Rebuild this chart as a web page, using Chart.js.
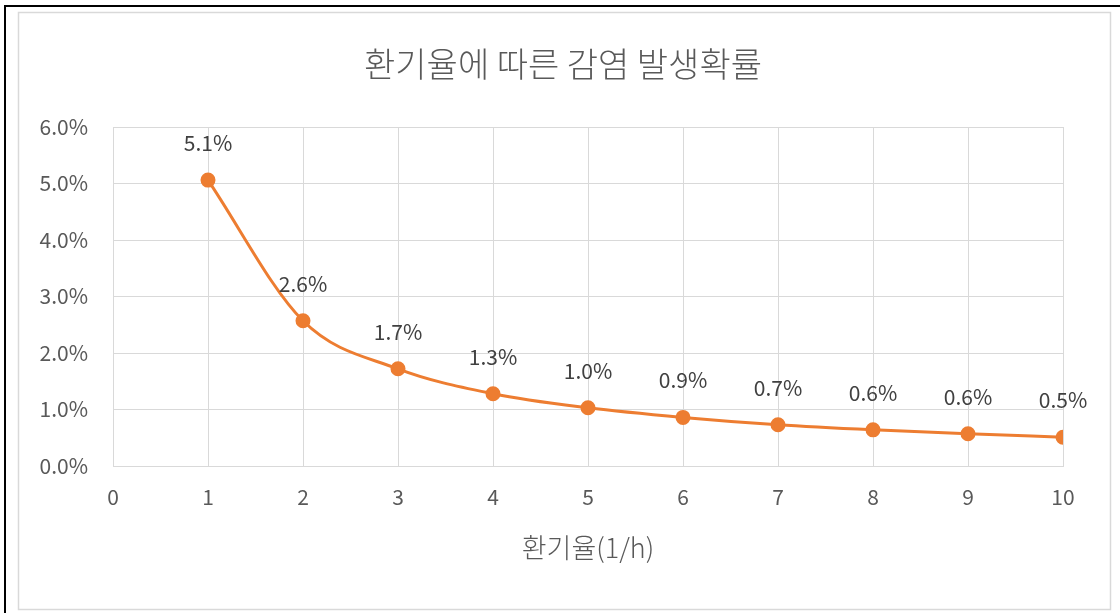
<!DOCTYPE html>
<html>
<head>
<meta charset="utf-8">
<script src="https://cdn.jsdelivr.net/npm/chart.js@4.4.0/dist/chart.umd.min.js"></script>
<style>
  html, body { margin: 0; padding: 0; background: #fff; }
  #wrap { width: 1120px; height: 613px; }
</style>
</head>
<body>
<div id="wrap"><canvas id="rateChart" width="1120" height="613"></canvas></div>
<script>
// values
const ventRates = [1, 2, 3, 4, 5, 6, 7, 8, 9, 10];
const infectionPct = [5.06, 2.57, 1.72, 1.28, 1.03, 0.86, 0.73, 0.64, 0.57, 0.51];
const chartTitle = '환기율에 따른 감염 발생확률';
const xTitle = '환기율(1/h)';

const orange = '#ED7D31';
const gridGray = '#d9d9d9';
const textGray = '#595959';
const fontFam = '"Noto Sans CJK KR", "Noto Sans", sans-serif';

// white background, outer frame, and the title (centred on the page, not the plot)
const framePlugin = {
    id: 'frame',
    beforeDraw(chart) {
        const c = chart.ctx;
        c.save();
        c.fillStyle = '#fff';
        c.fillRect(0, 0, chart.width, chart.height);
        c.strokeStyle = '#000';
        c.lineWidth = 2;
        c.beginPath();
        c.moveTo(5, chart.height);
        c.lineTo(5, 6);
        c.lineTo(chart.width, 6);
        c.stroke();
        c.strokeStyle = '#d9d9d9';
        c.lineWidth = 1.5;
        c.strokeRect(18.5, 12.5, 1092, 597);

        c.font = '300 34px ' + fontFam;
        c.fillStyle = textGray;
        c.textAlign = 'center';
        c.textBaseline = 'middle';
        c.fillText(chartTitle, 563, 64);
        c.restore();
    }
};

// percent labels above each point
const pointLabels = {
    id: 'pointLabels',
    afterDatasetsDraw(chart) {
        const c = chart.ctx;
        const meta = chart.getDatasetMeta(0);
        c.save();
        c.font = '21px ' + fontFam;
        c.fillStyle = '#404040';
        c.textAlign = 'center';
        c.textBaseline = 'middle';
        meta.data.forEach((pt, i) => {
            c.fillText(infectionPct[i].toFixed(1) + '%', pt.x, pt.y - 37);
        });
        c.restore();
    }
};

new Chart(document.getElementById('rateChart'), {
    type: 'line',
    data: {
        datasets: [{
            data: ventRates.map((r, i) => ({ x: r, y: infectionPct[i] })),
            borderColor: orange,
            backgroundColor: orange,
            borderWidth: 3,
            pointRadius: 6,
            pointHoverRadius: 6,
            pointBackgroundColor: orange,
            pointBorderColor: orange,
            cubicInterpolationMode: 'monotone',
            fill: false
        }]
    },
    options: {
        responsive: false,
        animation: false,
        layout: { padding: { left: 20, right: 57, top: 127, bottom: 44 } },
        plugins: {
            legend: { display: false },
            tooltip: { enabled: false },
            title: { display: false }
        },
        scales: {
            x: {
                type: 'linear',
                min: 0,
                max: 10,
                ticks: {
                    stepSize: 1,
                    color: textGray,
                    font: { family: fontFam, size: 21 },
                    padding: 18
                },
                grid: { color: gridGray, drawTicks: false },
                border: { color: gridGray },
                title: {
                    display: true,
                    text: xTitle,
                    color: textGray,
                    font: { family: fontFam, size: 27, weight: '300' },
                    padding: { top: 0, bottom: 5 }
                },
                afterFit(scale) { scale.height = 103; }
            },
            y: {
                min: 0,
                max: 6,
                ticks: {
                    stepSize: 1,
                    color: textGray,
                    font: { family: fontFam, size: 21 },
                    padding: 25,
                    callback: v => v.toFixed(1) + '%'
                },
                grid: { color: gridGray, drawTicks: false },
                border: { color: gridGray },
                afterFit(scale) { scale.width = 93; }
            }
        }
    },
    plugins: [framePlugin, pointLabels]
});
</script>
</body>
</html>
